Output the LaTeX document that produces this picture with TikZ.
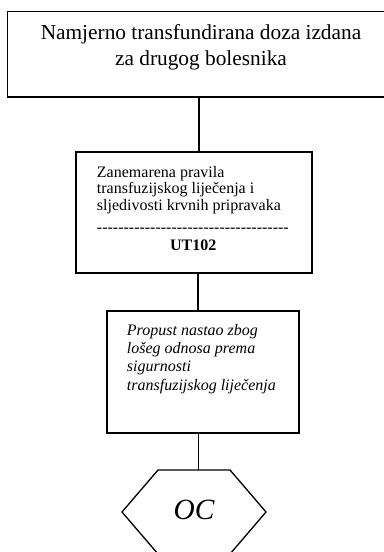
\documentclass[tikz,border=0pt]{standalone}
\usepackage{fontspec}
\setmainfont{Liberation Serif}
\begin{document}
\begin{tikzpicture}[x=0.75pt,y=-0.75pt,
  box/.style={draw, line width=1.3pt, rectangle, inner sep=0pt},
  conn/.style={line width=1.3pt},
  thinconn/.style={line width=0.7pt},
  bigtxt/.style={inner sep=0pt, anchor=base, font=\fontsize{16}{19}\selectfont},
  txt/.style={inner sep=0pt, anchor=base west, font=\fontsize{12}{14}\selectfont},
  itxt/.style={txt, font=\fontsize{12}{14}\selectfont\itshape}]
\useasboundingbox (0,0) rectangle (384,552);
% box 1
\node[box, minimum width=290.25pt, minimum height=64.1pt] (b1) at (201,54.25) {};
\node[bigtxt] (t1a) at (201,40) {Namjerno transfundirana doza izdana};
\node[bigtxt] (t1b) at (201,65.5) {za drugog bolesnika};
% box 2
\node[box, minimum width=177pt, minimum height=90.75pt] (b2) at (194,212.5) {};
\node[txt] (t2a) at (96.7,177) {Zanemarena pravila};
\node[txt] (t2b) at (96.7,193.5) {transfuzijskog liječenja i};
\node[txt] (t2c) at (96.7,210) {sljedivosti krvnih pripravaka};
\node[txt] (t2d) at (96.7,232) {-{}-{}-{}-{}-{}-{}-{}-{}-{}-{}-{}-{}-{}-{}-{}-{}-{}-{}-{}-{}-{}-{}-{}-{}-{}-{}-{}-{}-{}-{}-{}-{}-{}-{}-{}-{}};
\node[txt, anchor=base, font=\fontsize{12}{14}\selectfont\bfseries] (t2e) at (193.3,250) {UT102};
% box 3
\node[box, minimum width=144pt, minimum height=91.5pt] (b3) at (203,372) {};
\node[itxt] (t3a) at (126.7,335) {Propust nastao zbog};
\node[itxt] (t3b) at (126.7,353) {lošeg odnosa prema};
\node[itxt] (t3c) at (126.7,371) {sigurnosti};
\node[itxt] (t3d) at (126.7,390) {transfuzijskog liječenja};
% hexagon
\node[inner sep=0pt, font=\fontsize{22}{22}\selectfont\itshape] (oc) at (194,510) {OC};
\coordinate (h1) at (158,470);
\coordinate (h2) at (230,470);
\coordinate (h3) at (266,512);
\coordinate (h4) at (230,554);
\coordinate (h5) at (158,554);
\coordinate (h6) at (122,512);
\draw[line width=1pt, line join=miter] (h1) -- (h2) -- (h3) -- (h4) -- (h5) -- (h6) -- cycle;
% connectors
\coordinate (c1) at (199,0);
\coordinate (c2) at (198,0);
\coordinate (c3) at (198,0);
\draw[conn] (b1.south -| c1) -- (b2.north -| c1);
\draw[conn] (b2.south -| c2) -- (b3.north -| c2);
\draw[thinconn] (b3.south -| c3) -- (h1 -| c3);
\end{tikzpicture}
\end{document}
